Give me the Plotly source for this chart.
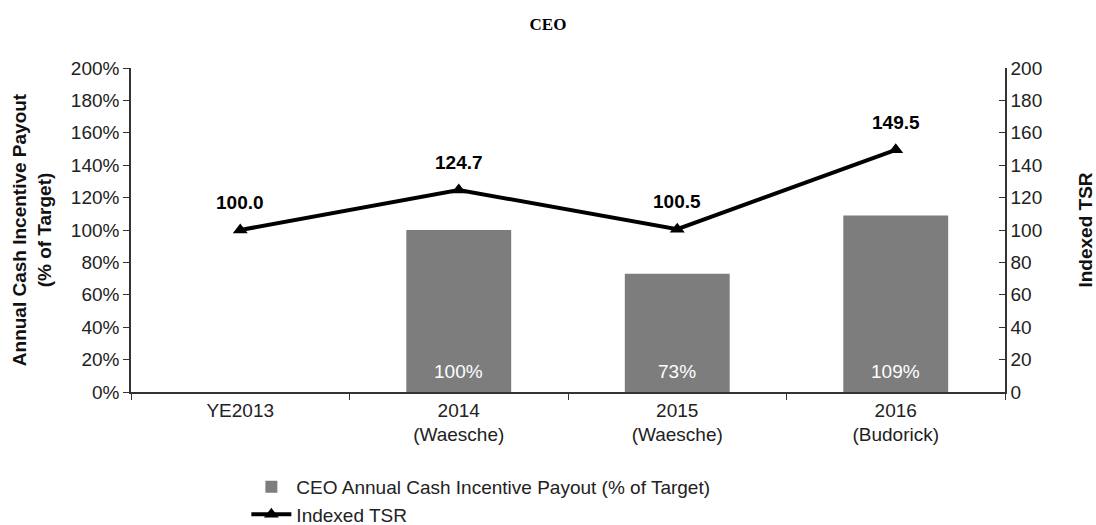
import plotly.graph_objects as go

categories = ["YE2013", "2014<br>(Waesche)", "2015<br>(Waesche)", "2016<br>(Budorick)"]
payout_pct = [None, 100, 73, 109]
payout_labels = ["", "100%", "73%", "109%"]
tsr = [100.0, 124.7, 100.5, 149.5]
left_ticks = list(range(0, 201, 20))
left_ticktext = ["%d%%" % v for v in left_ticks]
right_ticks = list(range(0, 201, 20))

FONT = "Liberation Sans, Arial, sans-serif"
FS = 19

fig = go.Figure()
fig.add_trace(go.Bar(
    x=categories, y=payout_pct, name="CEO Annual Cash Incentive Payout (% of Target)",
    marker=dict(color="#7d7d7d", line=dict(width=0)),
    legendgroup="a", hoverinfo="skip",
))
fig.add_trace(go.Scatter(
    x=categories, y=tsr, name="Indexed TSR", yaxis="y2", mode="lines+markers",
    line=dict(color="black", width=4),
    marker=dict(symbol="triangle-up", size=13, color="black"),
    legendgroup="b",
))

annotations = []
for c, v, lab in zip(categories, payout_pct, payout_labels):
    if v is not None:
        annotations.append(dict(x=c, y=0, yref="y", text=lab, showarrow=False,
                                yanchor="bottom", yshift=8,
                                font=dict(family=FONT, size=FS, color="white")))
for c, v in zip(categories, tsr):
    annotations.append(dict(x=c, y=v, yref="y2", text="<b>%.1f</b>" % v, showarrow=False,
                            yanchor="bottom", yshift=15,
                            font=dict(family=FONT, size=FS, color="black")))

fig.update_layout(
    width=1096, height=525,
    margin=dict(l=131, r=91, t=68, b=133, autoexpand=False),
    paper_bgcolor="white", plot_bgcolor="white",
    title=dict(text="<b>CEO</b>", x=0.5, xanchor="center", y=0.955, yanchor="middle",
               font=dict(family="Liberation Serif, Times New Roman, serif", size=17, color="black")),
    font=dict(family=FONT, size=FS, color="#222"),
    bargap=0.52,
    showlegend=True,
    legend=dict(x=0.132, y=-0.234, xanchor="left", yanchor="top", orientation="v",
                tracegroupgap=0, itemwidth=40, font=dict(family=FONT, size=FS, color="#222"),
                bgcolor="rgba(0,0,0,0)"),
    xaxis=dict(
        type="category", showline=True, linecolor="#333", linewidth=1.5,
        ticks="outside", tickson="boundaries", ticklen=6, tickcolor="#333",
        showgrid=False, tickfont=dict(family=FONT, size=FS, color="#222"),
        range=[-0.5, 3.5],
    ),
    yaxis=dict(
        range=[0, 200], tickvals=left_ticks, ticktext=left_ticktext,
        showline=True, linecolor="#333", linewidth=1.5, ticks="outside", ticklen=6,
        tickcolor="#333", showgrid=False, zeroline=False,
        tickfont=dict(family=FONT, size=FS, color="#222"),
        title=dict(text="<b>Annual Cash Incentive Payout<br>(% of Target)</b>", standoff=14,
                   font=dict(family=FONT, size=FS, color="#111")),
    ),
    yaxis2=dict(
        range=[0, 200], tickvals=right_ticks, overlaying="y", side="right",
        showline=True, linecolor="#333", linewidth=1.5, ticks="inside", ticklen=6,
        tickcolor="#333", showgrid=False, zeroline=False,
        tickfont=dict(family=FONT, size=FS, color="#222"),
        title=dict(text="<b>Indexed TSR</b>", standoff=40,
                   font=dict(family=FONT, size=FS, color="#111")),
    ),
    annotations=annotations,
)

fig.write_html("out.html")
